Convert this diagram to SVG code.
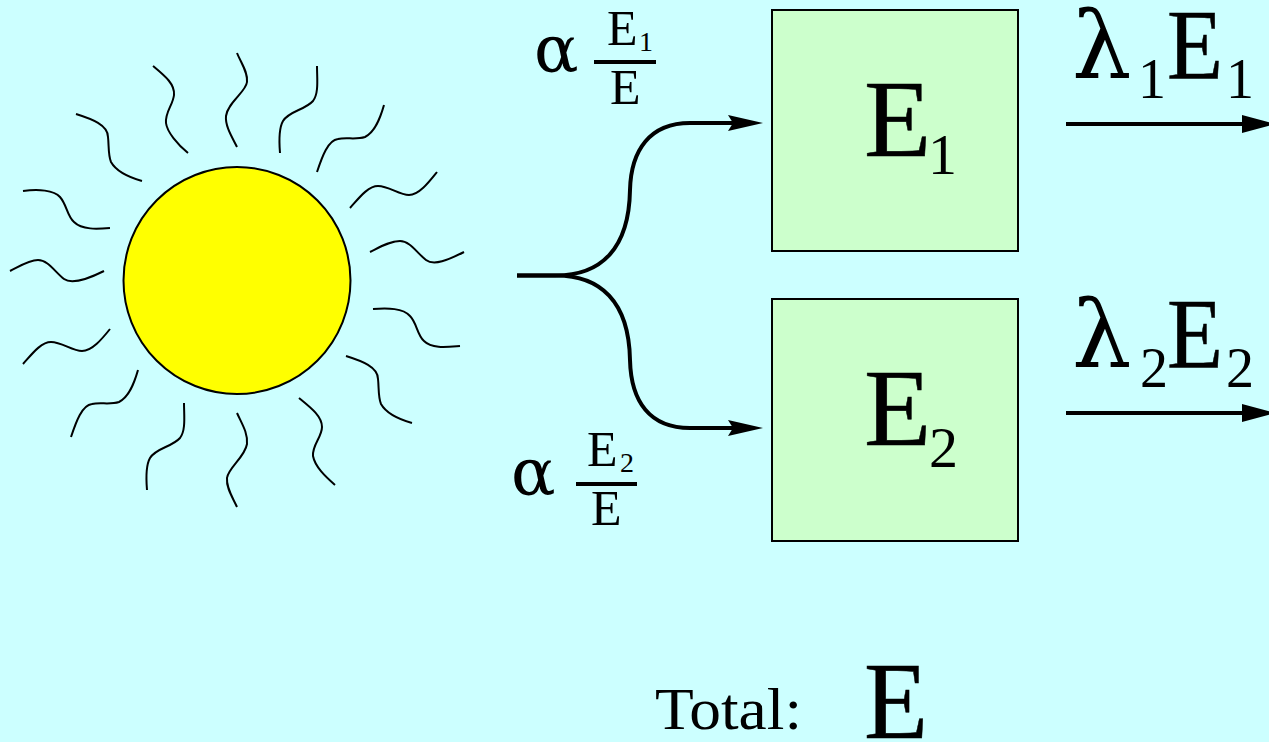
<svg xmlns="http://www.w3.org/2000/svg" width="1269" height="742" viewBox="0 0 1269 742">
<style>
text{font-family:"Liberation Serif","DejaVu Serif",serif;fill:#000}
.ray{fill:none;stroke:#000;stroke-width:2;stroke-linecap:butt}
.box{fill:#ccffcc;stroke:#000;stroke-width:2}
.wire{fill:none;stroke:#000;stroke-width:4}
.rule{stroke:#000;stroke-width:4}
.big{font-size:110px;stroke:#000;stroke-width:.5}.bigsub{font-size:58px}
.lam{font-size:94px;font-family:"DejaVu Serif",serif}.mid{font-size:100px;stroke:#000;stroke-width:.5}.midsub{font-size:56px}
.alpha{font-size:66px;font-family:"DejaVu Serif",serif}.frac{font-size:50px}.fracsub{font-size:28px}
</style>
<defs>
<path id="head" d="M0 0L-35 -8L-30 0L-35 8Z"/>
</defs>
<rect id="background" width="1269" height="742" fill="#ccffff"/>
<g id="sun">
<circle cx="237" cy="280.5" r="113.5" fill="#ffff00" stroke="#000" stroke-width="2"/>
<path class="ray" d="M153 66C165 76 175 84 174 95C173 105 165 112 166 123C167 132 178 145 188 153"/>
<path class="ray" d="M76 114C92 119 108 125 108 137C109 145 108 155 111 162C116 171 128 177 142 181"/>
<path class="ray" d="M23 191C38 189 54 190 60 197C67 205 67 216 74 222C82 230 97 229 110 228"/>
<path class="ray" d="M10 271C20 266 29 260 38 260C48 260 55 272 64 279C72 285 88 279 104 271"/>
<path class="ray" d="M23 364C32 354 41 342 51 342C62 342 72 351 82 351C92 351 102 339 110 329"/>
<path class="ray" d="M71 437C76 422 82 405 92 404C100 402 110 405 119 402C129 397 134 384 138 370"/>
<path class="ray" d="M147 490C146 478 146 465 150 458C156 448 172 447 180 438C186 430 184 416 184 403"/>
<path class="ray" d="M237 507C233 498 226 488 227 478C228 468 245 457 247 444C248 433 242 424 237 413"/>
<path class="ray" d="M299 398C310 407 322 416 322 427C322 437 312 445 313 456C315 467 326 477 335 485"/>
<path class="ray" d="M346 356C362 361 378 367 378 379C379 387 378 397 381 404C386 413 398 419 412 423"/>
<path class="ray" d="M373 309C388 308 403 308 410 316C417 323 417 335 424 341C432 349 447 347 460 346"/>
<path class="ray" d="M370 252C380 247 390 241 400 241C410 241 417 253 426 260C434 266 448 260 464 252"/>
<path class="ray" d="M350 208C359 198 368 186 378 186C389 186 399 195 409 195C419 195 429 182 437 172"/>
<path class="ray" d="M317 172C322 157 328 140 338 139C346 137 356 140 365 137C375 132 380 119 384 105"/>
<path class="ray" d="M280 153C279 141 279 128 283 121C289 111 305 110 313 101C319 93 317 79 317 66"/>
<path class="ray" d="M237 53C241 63 248 72 247 82C246 92 228 102 226 116C225 126 232 137 237 147"/>
</g>
<g id="node-e1">
<rect class="box" x="772" y="10" width="246" height="241"/>
<text class="big" x="864" y="156">E</text><text class="bigsub" x="928" y="174">1</text>
</g>
<g id="node-e2">
<rect class="box" x="772" y="299" width="246" height="242"/>
<text class="big" x="864" y="445">E</text><text class="bigsub" x="929" y="467">2</text>
</g>
<g id="connectors">
<path class="wire" d="M517 275.500H556C600 275.500 629 250 630 190C631 150 650 123 690 123H735"/>
<path class="wire" d="M517 275.500H556C600 275.500 629 301 630 360C631 402 650 428 690 428H735"/>
<use href="#head" x="763" y="123"/>
<use href="#head" x="763" y="428"/>
<path class="wire" d="M1066 124H1245"/>
<path class="wire" d="M1066 413H1245"/>
<path d="M1242 115L1275 124L1242 133Z"/>
<path d="M1242 404L1275 413L1242 422Z"/>
</g>
<g id="label-frac-1">
<text class="alpha" x="534" y="72">α</text>
<text class="frac" x="607" y="45">E</text><text class="fracsub" x="639" y="51">1</text>
<line class="rule" x1="594" y1="62" x2="656" y2="62"/>
<text class="frac" x="610" y="104">E</text>
</g>
<g id="label-frac-2">
<text class="alpha" x="511" y="495">α</text>
<text class="frac" x="587" y="466">E</text><text class="fracsub" x="620" y="472">2</text>
<line class="rule" x1="576" y1="484" x2="637" y2="484"/>
<text class="frac" x="591" y="525">E</text>
</g>
<g id="label-rate-1">
<text class="lam" x="1072" y="78">λ</text><text class="midsub" x="1138" y="98">1</text>
<text class="mid" x="1167" y="78" textLength="56" lengthAdjust="spacingAndGlyphs">E</text><text class="midsub" x="1226" y="98">1</text>
</g>
<g id="label-rate-2">
<text class="lam" x="1072" y="367">λ</text><text class="midsub" x="1140" y="387">2</text>
<text class="mid" x="1167" y="367" textLength="56" lengthAdjust="spacingAndGlyphs">E</text><text class="midsub" x="1226" y="387">2</text>
</g>
<g id="label-total">
<text x="655" y="729" font-size="60" textLength="147" lengthAdjust="spacingAndGlyphs">Total:</text>
<text class="big" x="864" y="738" textLength="64" lengthAdjust="spacingAndGlyphs">E</text>
</g>
</svg>
